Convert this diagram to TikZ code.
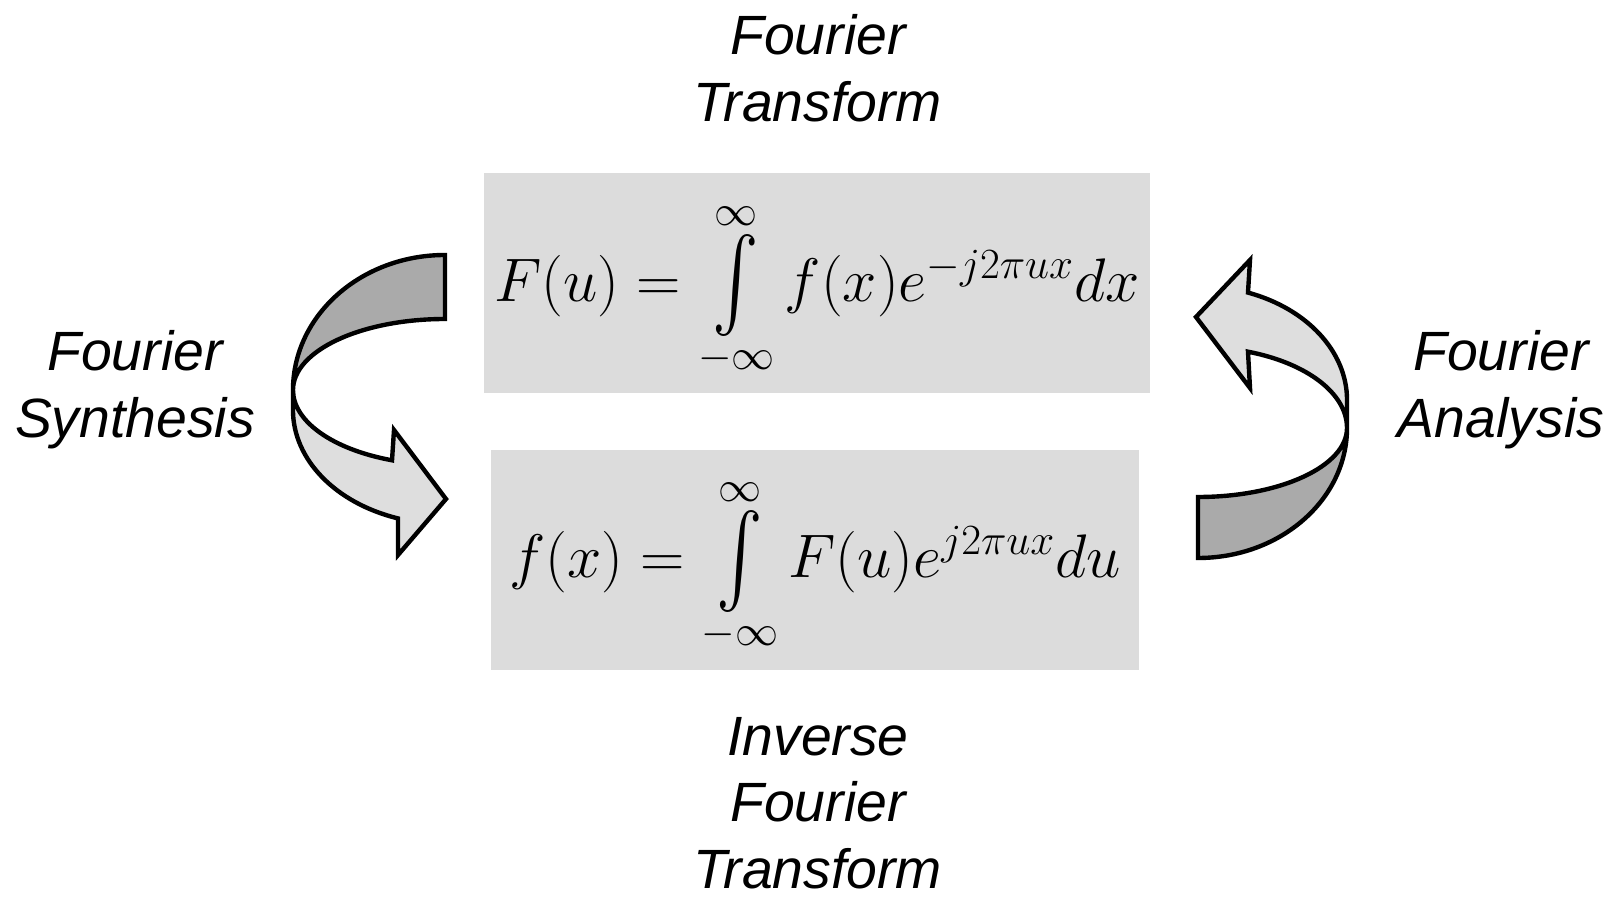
\documentclass[tikz,border=0pt]{standalone}
\usepackage{fix-cm}
\usepackage{exscale}
\usepackage[no-math]{fontspec}
\usepackage{graphicx}
\newfontfamily\lblfont{Liberation Sans}
\definecolor{boxgray}{RGB}{220,220,220}
\definecolor{bandlight}{RGB}{222,222,222}
\definecolor{banddark}{RGB}{170,170,170}
\tikzset{
  eq box/.style={fill=boxgray,inner sep=0pt},
  eq text/.style={inner sep=0pt,font=\fontsize{35}{40}\selectfont},
  name label/.style={align=center,font=\lblfont\itshape\fontsize{31.5}{38}\selectfont},
  band dark/.style={draw=black,fill=banddark,line width=2.5pt},
  band light/.style={draw=black,fill=bandlight,line width=2.5pt},
}
\newcommand{\tallint}{\mathop{\vcenter{\hbox{\scalebox{1.6}[2.1]{$\int$}}}}\limits_{-\infty}^{\infty}}

\begin{document}
\begin{tikzpicture}[x=0.02cm,y=0.02cm]
  \useasboundingbox (0,0) rectangle (1614,897);
  % formula boxes
  \node[eq box,minimum width=13.32cm,minimum height=4.4cm] (ftbox) at (817,614) {};
  \node[eq box,minimum width=12.98cm,minimum height=4.42cm] (iftbox) at (815,337) {};
  \node[eq text] (ft) at (817,607) {$F(u)=\tallint f(x)e^{-j2\pi ux}dx$};
  \node[eq text] (ift) at (815,331) {$f(x)=\tallint F(u)e^{j2\pi ux}du$};
  % labels
  \node[name label] (ftlabel) at (818,829) {Fourier\\Transform};
  \node[name label] (iftlabel) at (818,94) {Inverse\\Fourier\\Transform};
  \node[name label] (synlabel) at (135,507) {Fourier\\Synthesis};
  \node[name label] (anlabel) at (1501,507) {Fourier\\Analysis};
  % left turning arrow
  \draw[band dark] (445,642) arc[start angle=90,end angle=180,x radius=152,y radius=135]
    arc[start angle=180,end angle=90,x radius=152,y radius=71] -- cycle;
  \draw[band light] (293,507) arc[start angle=180,end angle=249.6,x radius=152,y radius=75]
    -- (394,467) -- (446,398) -- (398,342) -- (398,378.6)
    arc[start angle=252,end angle=180,x radius=152,y radius=114] -- cycle;
  % right turning arrow
  \draw[band dark] (1198,339) arc[start angle=270,end angle=360,x radius=149,y radius=130]
    arc[start angle=0,end angle=-90,x radius=149,y radius=69] -- cycle;
  \draw[band light] (1347,469) arc[start angle=0,end angle=70.4,x radius=149,y radius=81]
    -- (1250,509) -- (1196,580) -- (1250,637) -- (1248,604.4)
    arc[start angle=70.4,end angle=0,x radius=149,y radius=114] -- cycle;
\end{tikzpicture}
\end{document}
